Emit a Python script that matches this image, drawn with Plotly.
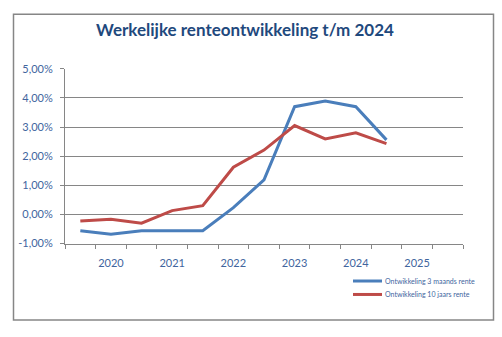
import plotly.graph_objects as go

# half-year periods (2019 H2 .. 2024 H2), positioned on a numeric year axis
periods = [2019.5, 2020.0, 2020.5, 2021.0, 2021.5, 2022.0, 2022.5, 2023.0, 2023.5, 2024.0, 2024.5]
rente_3m = [-0.56, -0.68, -0.56, -0.56, -0.56, 0.23, 1.19, 3.70, 3.89, 3.70, 2.56]
rente_10j = [-0.23, -0.17, -0.30, 0.13, 0.30, 1.62, 2.21, 3.05, 2.59, 2.80, 2.43]

x_tick_vals = [2020, 2021, 2022, 2023, 2024, 2025]
x_tick_labels = ["2020", "2021", "2022", "2023", "2024", "2025"]
y_tick_vals = [-1, 0, 1, 2, 3, 4, 5]
y_tick_labels = ["-1,00%", "0,00%", "1,00%", "2,00%", "3,00%", "4,00%", "5,00%"]

title_text = "Werkelijke renteontwikkeling t/m 2024"
series_names = ["Ontwikkeling 3 maands rente", "Ontwikkeling 10 jaars rente"]
series_colors = ["#4A7EBB", "#BE4B48"]

W, H = 502, 337
tick_color = "#41659E"
grid_color = "#868686"
font_family = "Lato, 'Open Sans', sans-serif"

fig = go.Figure()
for vals, name, col in zip([rente_3m, rente_10j], series_names, series_colors):
    fig.add_trace(go.Scatter(x=periods, y=vals, mode="lines", name=name,
                             line=dict(color=col, width=3)))

fig.update_layout(
    width=W, height=H,
    margin=dict(l=0, r=0, t=0, b=0),
    paper_bgcolor="white", plot_bgcolor="white",
    font=dict(family=font_family, color=tick_color),
    title=dict(text="<b>" + title_text + "</b>", x=245 / W, xanchor="center",
               y=1 - 30 / H, yanchor="middle",
               font=dict(size=17, color="#1F497D", family=font_family)),
    showlegend=False,
    xaxis=dict(domain=[65 / W, 463 / W], range=[2019.25, 2025.75],
               tickvals=x_tick_vals, ticktext=x_tick_labels, ticks="",
               ticklabelstandoff=9,
               showgrid=False, zeroline=False, showline=True, linecolor=grid_color,
               linewidth=1, tickfont=dict(size=11, color=tick_color),
               minor=dict(ticks="outside", ticklen=4, tickcolor=grid_color,
                          tick0=2019.25, dtick=0.5, showgrid=False)),
    yaxis=dict(domain=[1 - 246 / H, 1 - 64.3 / H], range=[-1, 5],
               tickvals=y_tick_vals, ticktext=y_tick_labels,
               ticks="outside", ticklen=4, tickcolor=grid_color,
               ticklabelstandoff=5,
               showgrid=True, gridcolor=grid_color, gridwidth=1,
               zeroline=False, showline=True, linecolor=grid_color, linewidth=1,
               tickfont=dict(size=11, color=tick_color)),
)

# chart area border
fig.add_shape(type="rect", xref="paper", yref="paper",
              x0=13.5 / W, x1=493.5 / W, y0=1 - 325.5 / H, y1=1 - 7.5 / H,
              line=dict(color="#868686", width=1.5), fillcolor="rgba(0,0,0,0)", layer="below")

# legend (bottom right, inside chart area)
legend_rows_y = [285, 299]
for name, col, ly in zip(series_names, series_colors, legend_rows_y):
    fig.add_shape(type="line", xref="paper", yref="paper",
                  x0=353 / W, x1=382 / W, y0=1 - ly / H, y1=1 - ly / H,
                  line=dict(color=col, width=3))
    fig.add_annotation(text=name, xref="paper", yref="paper",
                       x=383 / W, y=1 - ly / H, xanchor="left", yanchor="middle",
                       showarrow=False, font=dict(size=7, color=tick_color, family=font_family))

fig.write_html("out.html")
